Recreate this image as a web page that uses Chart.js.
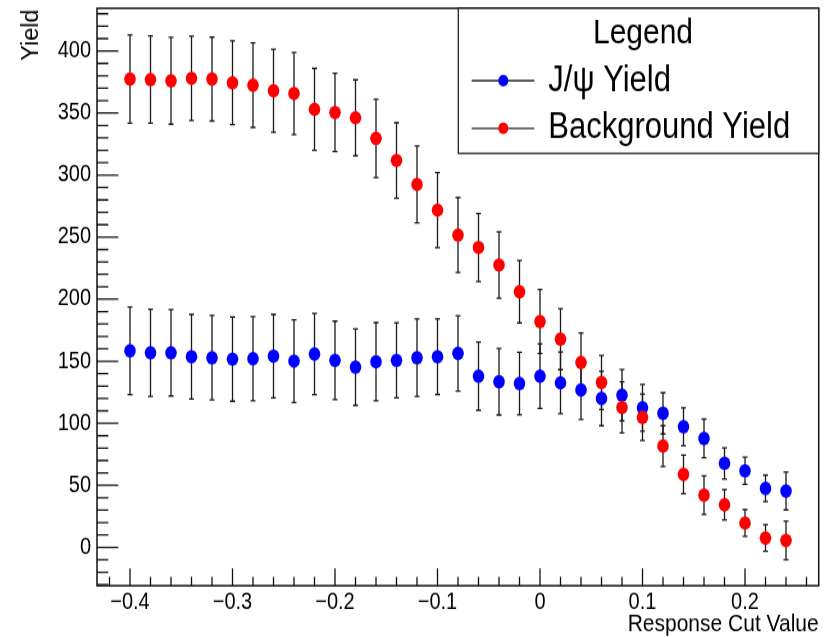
<!DOCTYPE html>
<html>
<head>
<meta charset="utf-8">
<title>Yield vs Response Cut</title>
<script src="https://cdn.jsdelivr.net/npm/chart.js@4.4.1/dist/chart.umd.min.js"></script>
<style>
  html, body { margin: 0; padding: 0; background: #fff; }
  #outer { width: 833px; height: 637px; overflow: hidden; position: relative; }
  /* ROOT canvas is a bit taller than wide in its glyphs, so stretch vertically */
  #wrap { position: absolute; left: 0; top: 0; width: 833px; height: 545px; transform: scaleY(1.1688); transform-origin: 0 0; }
</style>
</head>
<body>
<div id="outer"><div id="wrap"><canvas id="yieldChart"></canvas></div></div>
<script>
const STRETCH = 1.1688;

// cut values (x)
const cutValues = [-0.40, -0.38, -0.36, -0.34, -0.32, -0.30, -0.28, -0.26, -0.24, -0.22, -0.20,
                   -0.18, -0.16, -0.14, -0.12, -0.10, -0.08, -0.06, -0.04, -0.02, 0.00,
                   0.02, 0.04, 0.06, 0.08, 0.10, 0.12, 0.14, 0.16, 0.18, 0.20, 0.22, 0.24];

// J/psi yield and errors
const jpsiYield = [158.4, 156.8, 156.8, 153.6, 152.8, 151.7, 152.0, 154.1, 150.1, 155.8, 150.7,
                   145.3, 149.6, 150.7, 152.8, 153.6, 156.3, 138.0, 133.5, 132.1, 138.0,
                   132.6, 126.8, 120.0, 122.7, 112.5, 108.0, 97.2, 87.8, 67.7, 61.7, 47.5, 45.4];
const jpsiErr = [35.4, 35.1, 34.8, 34.1, 34.0, 33.9, 33.9, 33.6, 33.3, 32.8, 31.6,
                 30.8, 31.5, 30.3, 31.2, 30.4, 30.4, 27.5, 26.8, 25.2, 26.0,
                 24.8, 23.7, 22.0, 20.7, 18.9, 16.6, 15.3, 15.6, 12.6, 11.0, 10.7, 15.2];

// background yield and errors
const bkgYield = [377.4, 377.0, 376.0, 378.0, 377.4, 374.4, 372.5, 368.0, 365.8, 353.0, 350.5,
                  346.2, 329.6, 311.8, 292.5, 271.8, 251.7, 241.7, 227.5, 206.0, 182.0,
                  167.8, 149.0, 132.9, 112.8, 104.8, 81.6, 58.8, 42.1, 34.3, 19.6, 7.5, 5.6];
const bkgErr = [35.5, 35.2, 35.0, 34.1, 33.8, 33.8, 34.1, 33.4, 33.1, 33.0, 31.6,
                30.6, 31.6, 30.4, 30.9, 30.3, 30.2, 27.4, 26.7, 25.1, 25.8,
                24.6, 23.7, 21.8, 20.6, 18.7, 16.4, 15.5, 15.5, 12.3, 10.8, 10.7, 15.5];

// axis labels
const xTicks = [-0.4, -0.3, -0.2, -0.1, 0, 0.1, 0.2];
const yTicks = [0, 50, 100, 150, 200, 250, 300, 350, 400];

const FONT = "'Liberation Sans', Arial, Helvetica, sans-serif";

function fmtX(v) {
  if (Math.abs(v) < 1e-9) return '0';
  return v.toFixed(1).replace('-', '\u2212');
}

// error bars, drawn under the markers
const errorBars = {
  id: 'errorBars',
  beforeDatasetsDraw(chart) {
    const ctx = chart.ctx;
    const xs = chart.scales.x, ys = chart.scales.y;
    ctx.save();
    ctx.strokeStyle = '#1a1a1a';
    ctx.lineWidth = 1.3;
    chart.data.datasets.forEach(ds => {
      ds.data.forEach((p, i) => {
        const px = xs.getPixelForValue(p.x);
        const y1 = ys.getPixelForValue(p.y + ds.errors[i]);
        const y2 = ys.getPixelForValue(p.y - ds.errors[i]);
        ctx.beginPath();
        ctx.moveTo(px, y1); ctx.lineTo(px, y2);
        ctx.moveTo(px - 2.5, y1); ctx.lineTo(px + 2.5, y1);
        ctx.moveTo(px - 2.5, y2); ctx.lineTo(px + 2.5, y2);
        ctx.stroke();
      });
    });
    ctx.restore();
  }
};

// ROOT-style frame with inward ticks, plus the rotated y title
const rootFrame = {
  id: 'rootFrame',
  afterDatasetsDraw(chart) {
    const ctx = chart.ctx;
    const a = chart.chartArea;
    const xs = chart.scales.x, ys = chart.scales.y;
    ctx.save();
    ctx.strokeStyle = '#111';
    ctx.lineWidth = 1.3;
    ctx.beginPath();
    for (let i = -3; i <= 43; i++) {
      const v = i * 10;
      if (v < ys.min || v > ys.max) continue;
      const py = ys.getPixelForValue(v);
      const len = (v % 50 === 0) ? 21.3 : 11.3;
      ctx.moveTo(a.left, py); ctx.lineTo(a.left + len, py);
    }
    for (let i = -21; i <= 13; i++) {
      const v = i * 0.02;
      if (v < xs.min || v > xs.max) continue;
      const px = xs.getPixelForValue(v);
      const len = (i % 5 === 0) ? 14.8 : 7.7;
      ctx.moveTo(px, a.bottom); ctx.lineTo(px, a.bottom - len);
    }
    ctx.stroke();
    ctx.lineWidth = 1.5;
    ctx.strokeRect(a.left, a.top, a.right - a.left, a.bottom - a.top);

    // y title: rotated, flush with the top of the frame, not stretched along its length
    ctx.translate(32, a.top + 0.9);
    ctx.rotate(-Math.PI / 2);
    ctx.scale(1 / STRETCH, 1);
    ctx.fillStyle = '#000';
    ctx.font = '23.5px ' + FONT;
    ctx.textAlign = 'right';
    ctx.textBaseline = 'middle';
    ctx.fillText('Yield', 0, 0);
    ctx.restore();
  }
};

// TLegend-like box in the top right corner
const rootLegend = {
  id: 'rootLegend',
  afterDraw(chart) {
    const ctx = chart.ctx;
    const a = chart.chartArea;
    const left = 458.3, top = a.top, right = a.right, bottom = 131.2;
    ctx.save();
    ctx.fillStyle = '#fff';
    ctx.fillRect(left, top, right - left, bottom - top);
    ctx.strokeStyle = '#222';
    ctx.lineWidth = 1.3;
    ctx.strokeRect(left, top, right - left, bottom - top);

    ctx.fillStyle = '#000';
    ctx.font = '30px ' + FONT;
    ctx.textAlign = 'center';
    ctx.textBaseline = 'alphabetic';
    ctx.fillText('Legend', 643, 36.5);

    ctx.font = '31px ' + FONT;
    const rows = [{ y: 69.0, base: 77.6 }, { y: 109.8, base: 118.3 }];
    chart.data.datasets.forEach((ds, i) => {
      const r = rows[i];
      ctx.strokeStyle = '#222';
      ctx.lineWidth = 1.3;
      ctx.beginPath();
      ctx.moveTo(471.7, r.y); ctx.lineTo(534.3, r.y);
      ctx.stroke();
      ctx.fillStyle = ds.pointBackgroundColor;
      ctx.beginPath();
      ctx.arc(503.3, r.y, 5, 0, Math.PI * 2);
      ctx.fill();
      ctx.fillStyle = '#000';
      ctx.textAlign = 'left';
      ctx.fillText(ds.label, 548.3, r.base);
    });
    ctx.restore();
  }
};

const ctx = document.getElementById('yieldChart').getContext('2d');
new Chart(ctx, {
  type: 'scatter',
  data: {
    datasets: [
      {
        label: 'J/\u03c8 Yield',
        data: cutValues.map((x, i) => ({ x: x, y: jpsiYield[i] })),
        errors: jpsiErr,
        pointRadius: 5.8,
        pointBorderWidth: 0,
        pointBackgroundColor: '#0000ff',
        pointBorderColor: '#0000ff',
        order: 2
      },
      {
        label: 'Background Yield',
        data: cutValues.map((x, i) => ({ x: x, y: bkgYield[i] })),
        errors: bkgErr,
        pointRadius: 5.8,
        pointBorderWidth: 0,
        pointBackgroundColor: '#ff0000',
        pointBorderColor: '#ff0000',
        order: 1
      }
    ]
  },
  options: {
    responsive: true,
    maintainAspectRatio: false,
    animation: false,
    events: [],
    layout: { padding: { left: 0, right: 14.3, top: 7.1, bottom: 0 } },
    plugins: {
      legend: { display: false },
      tooltip: { enabled: false }
    },
    scales: {
      x: {
        type: 'linear',
        min: -0.4322,
        max: 0.2719,
        afterBuildTicks: s => { s.ticks = xTicks.map(v => ({ value: v })); },
        afterFit: s => { s.height = 43.9; s.paddingLeft = 0; s.paddingRight = 0; },
        grid: { display: false, drawTicks: false },
        border: { display: false },
        ticks: {
          callback: v => fmtX(v),
          font: { family: FONT, size: 20 },
          color: '#000',
          padding: 2,
          maxRotation: 0,
          autoSkip: false
        },
        title: {
          display: true,
          text: 'Response Cut Value',
          align: 'end',
          color: '#000',
          font: { family: FONT, size: 21, lineHeight: 1 },
          padding: { top: 0, bottom: 0 }
        }
      },
      y: {
        type: 'linear',
        min: -30.9,
        max: 434.4,
        afterBuildTicks: s => { s.ticks = yTicks.map(v => ({ value: v })); },
        afterFit: s => { s.width = 97; s.paddingTop = 0; s.paddingBottom = 0; },
        grid: { display: false, drawTicks: false },
        border: { display: false },
        ticks: {
          font: { family: FONT, size: 20 },
          color: '#000',
          padding: 6,
          autoSkip: false
        }
      }
    }
  },
  plugins: [errorBars, rootFrame, rootLegend]
});
</script>
</body>
</html>
